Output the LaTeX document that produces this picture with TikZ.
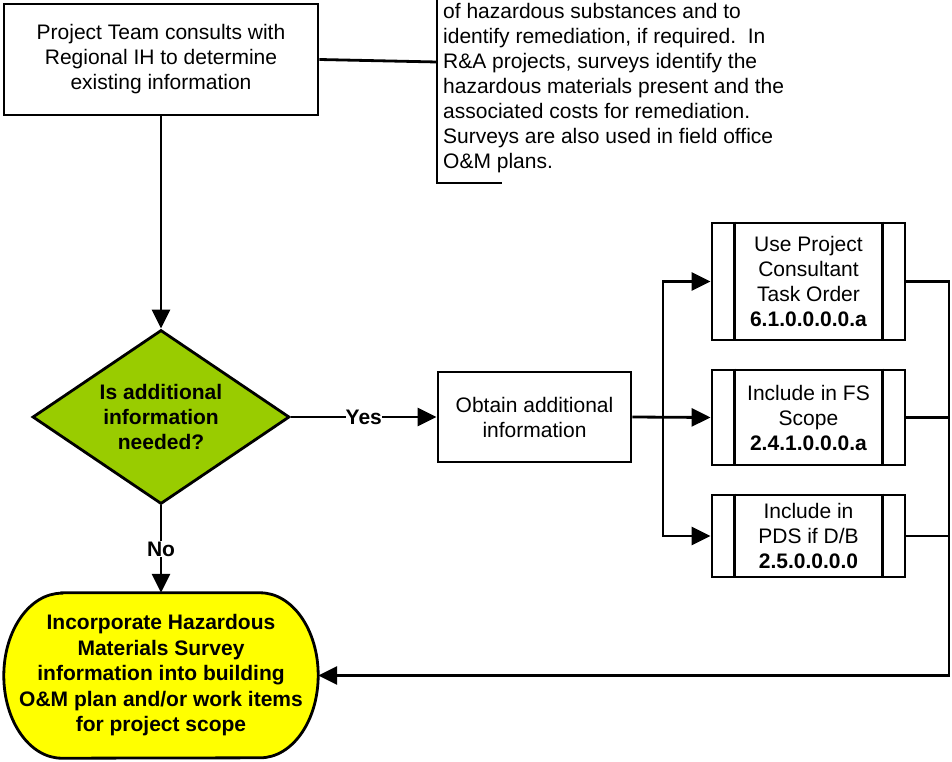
\documentclass[tikz,border=0pt]{standalone}
\usepackage{fontspec}
\setmainfont{Liberation Sans}
\usetikzlibrary{shapes.geometric,arrows.meta,backgrounds}
\definecolor{dgreen}{HTML}{99CC00}
\definecolor{tyellow}{HTML}{FFFF00}
\begin{document}
\begin{tikzpicture}[x=1pt,y=-1pt,
  every node/.style={font=\fontsize{21}{25}\selectfont, align=center, inner sep=0pt},
  lw/.style={line width=2.8pt},
  arr/.style={lw, -{Triangle[length=19pt,width=18pt]}},
  procbox/.style={draw, lw, rectangle, fill=white},
  decision/.style={draw, lw, diamond, fill=dgreen, aspect=1.48, font=\fontsize{21}{25}\selectfont\bfseries},
  terminal/.style={rectangle, font=\fontsize{21}{25.5}\selectfont\bfseries},
  termshape/.style={lw, fill=tyellow},
  lbl/.style={fill=white, font=\fontsize{21}{25}\selectfont\bfseries, inner sep=0pt}
]
\useasboundingbox (0,0) rectangle (952,762);

% nodes
\node[procbox, minimum width=314pt, minimum height=111pt] (top) at (161,59.5)
  {Project Team consults with\\Regional IH to determine\\existing information};

\node[anchor=north west, align=left] (note) at (443,3)
  {of hazardous substances and to\\identify remediation, if required.\ \ In\\R\&A projects, surveys identify the\\hazardous materials present and the\\associated costs for remediation.\\Surveys are also used in field office\\O\&M plans.};

\node[decision, minimum width=257pt, minimum height=174pt] (dec) at (161,417)
  {Is additional\\information\\needed?};

\node[procbox, minimum width=193pt, minimum height=90pt] (obt) at (534.5,417)
  {Obtain additional\\information};

\node[procbox, minimum width=193pt, minimum height=117pt] (s1) at (808.5,281.5)
  {Use Project\\Consultant\\Task Order\\\textbf{6.1.0.0.0.0.a}};
\node[procbox, minimum width=193pt, minimum height=95pt] (s2) at (808.5,417.5)
  {Include in FS\\Scope\\\textbf{2.4.1.0.0.0.a}};
\node[procbox, minimum width=193pt, minimum height=82pt] (s3) at (808.5,536)
  {Include in\\PDS if D/B\\\textbf{2.5.0.0.0.0}};

\node[terminal, minimum width=314pt, minimum height=165pt] (term) at (161,675.5)
  {Incorporate Hazardous\\Materials Survey\\information into building\\O\&M plan and/or work items\\for project scope};
\begin{scope}[on background layer]
  \draw[termshape] ([xshift=58pt]term.north west) -- ([xshift=-58pt]term.north east)
    arc[start angle=90, end angle=-90, x radius=58pt, y radius=82.5pt]
    -- ([xshift=58pt]term.south west)
    arc[start angle=270, end angle=90, x radius=58pt, y radius=82.5pt] -- cycle;
\end{scope}

% subprocess inner lines
\foreach \n in {s1,s2,s3}{
  \draw[lw] ([xshift=24pt]\n.north west) -- ([xshift=24pt]\n.south west);
  \draw[lw] ([xshift=-24pt]\n.north east) -- ([xshift=-24pt]\n.south east);
}

% note bracket
\coordinate (notetop) at (437,-5);
\coordinate (notel) at (437,62);
\coordinate (notebot) at (437,183);
\coordinate (noteend) at (502,183);
\draw[lw] (notetop) -- (notebot) -- (noteend);
\draw[lw] (top.east) -- (notel);

% connectors
\draw[arr] (top.south) -- (dec.north);
\draw[arr] (dec.east) -- node[lbl] (yes) {Yes} (obt.west);
\draw[arr] (dec.south) -- node[lbl, pos=0.5, inner sep=1pt] (no) {No} (term.north);

\coordinate (br) at (663,417);
\draw[arr] (obt.east) -- (s2.west);
\draw[arr] (br) |- (s1.west);
\draw[arr] (br) |- (s3.west);

\coordinate (bus) at (949,675.5);
\draw[arr] (s1.east) -| (bus) -- (term.east);
\draw[lw] (s2.east) -- (s2.east -| bus);
\draw[lw] (s3.east) -- (s3.east -| bus);
\end{tikzpicture}
\end{document}
